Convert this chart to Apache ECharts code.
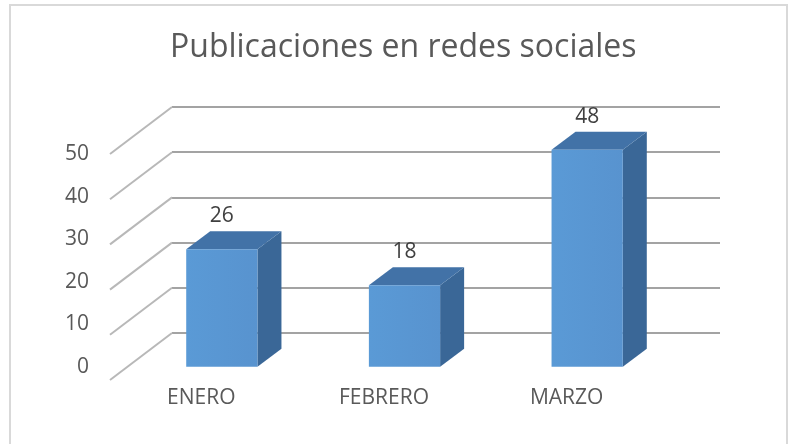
<!DOCTYPE html>
<html>
<head>
<meta charset="utf-8">
<script src="https://cdn.jsdelivr.net/npm/echarts@6/dist/echarts.min.js"></script>
<style>
  html, body { margin: 0; padding: 0; background: #fff; }
  #chart { width: 788px; height: 444px; }
</style>
</head>
<body>
<div id="chart"></div>
<script>
var categories = ['ENERO', 'FEBRERO', 'MARZO'];
var values = [26, 18, 48];
var gridTicks = [0, 10, 20, 30, 40, 50];

// 3d look: offset from front plane to back wall, bar front offset and bar depth
var depth = [62, -47];
var barFront = [20.5, -13.3];
var barDepth = [24, -18];

var chart = echarts.init(document.getElementById('chart'));

var axisFont = { fontFamily: 'Open Sans', fontSize: 21, color: '#595959' };

var option = {
    animation: false,
    title: {
        text: 'Publicaciones en redes sociales',
        left: 165,
        top: 27,
        textStyle: { fontFamily: 'Open Sans', fontSize: 32, fontWeight: 'normal', color: '#595959' }
    },
    graphic: [{
        type: 'rect',
        shape: { x: 10, y: 5, width: 777, height: 500 },
        style: { fill: 'none', stroke: '#d9d9d9', lineWidth: 2 },
        silent: true
    }],
    grid: [
        // front plane
        { left: 110, top: 154, width: 548, height: 226 },
        // back wall
        { left: 172, top: 107, width: 548, height: 226 },
        // value labels
        { left: 97, top: 154, width: 10, height: 213 }
    ],
    xAxis: [
        {
            gridIndex: 0, type: 'category', data: categories,
            axisLine: { show: false }, axisTick: { show: false },
            axisLabel: Object.assign({ margin: 8 }, axisFont)
        },
        { gridIndex: 1, type: 'category', data: categories, show: false },
        { gridIndex: 2, type: 'category', data: categories, show: false }
    ],
    yAxis: [
        {
            gridIndex: 0, type: 'value', min: 0, max: 50, interval: 10,
            axisLabel: { show: false }, axisLine: { show: false }, axisTick: { show: false },
            splitLine: { show: false }
        },
        {
            gridIndex: 1, type: 'value', min: 0, max: 50, interval: 10,
            axisLabel: { show: false }, axisLine: { show: false }, axisTick: { show: false },
            splitLine: { show: true, lineStyle: { color: '#a3a3a3', width: 2 } }
        },
        {
            gridIndex: 2, type: 'value', min: 0, max: 50, interval: 10,
            axisLine: { show: false }, axisTick: { show: false }, splitLine: { show: false },
            axisLabel: Object.assign({ margin: 8 }, axisFont)
        }
    ],
    series: [
        {
            // side wall lines
            type: 'custom',
            xAxisIndex: 0, yAxisIndex: 0,
            data: gridTicks.map(function (t) { return [0, t]; }),
            encode: { x: 0, y: 1 },
            z: 1,
            renderItem: function (params, api) {
                var x = params.coordSys.x;
                var y = api.coord([0, api.value(1)])[1];
                return {
                    type: 'line',
                    shape: { x1: x, y1: y, x2: x + depth[0], y2: y + depth[1] },
                    style: { stroke: '#b8b8b8', lineWidth: 2 }
                };
            }
        },
        {
            type: 'custom',
            xAxisIndex: 0, yAxisIndex: 0,
            data: values.map(function (v, i) { return [i, v]; }),
            encode: { x: 0, y: 1 },
            z: 3,
            renderItem: function (params, api) {
                var i = api.value(0), v = api.value(1);
                var top = api.coord([i, v]);
                var base = api.coord([i, 0]);
                var w = api.size([1, 0])[0] * 0.39;
                var x0 = top[0] - w / 2 + barFront[0];
                var x1 = x0 + w;
                var yT = top[1] + barFront[1];
                var yB = base[1] + barFront[1];
                var dx = barDepth[0], dy = barDepth[1];
                return {
                    type: 'group',
                    children: [
                        {
                            type: 'polygon',
                            shape: { points: [[x1, yT], [x1 + dx, yT + dy], [x1 + dx, yB + dy], [x1, yB]] },
                            style: { fill: '#3a6797' }
                        },
                        {
                            type: 'polygon',
                            shape: { points: [[x0, yT], [x0 + dx, yT + dy], [x1 + dx, yT + dy], [x1, yT]] },
                            style: { fill: '#4272a7' }
                        },
                        {
                            type: 'rect',
                            shape: { x: x0, y: yT, width: w, height: yB - yT },
                            style: {
                                fill: new echarts.graphic.LinearGradient(0, 0, 1, 0, [
                                    { offset: 0, color: '#5a9ad6' },
                                    { offset: 1, color: '#5893cf' }
                                ])
                            }
                        },
                        {
                            type: 'text',
                            style: {
                                text: String(v),
                                x: (x0 + x1) / 2,
                                y: yT + dy - 15,
                                align: 'center',
                                verticalAlign: 'middle',
                                font: '21px "Open Sans"',
                                fill: '#404040'
                            }
                        }
                    ]
                };
            }
        }
    ]
};

chart.setOption(option);
</script>
</body>
</html>
